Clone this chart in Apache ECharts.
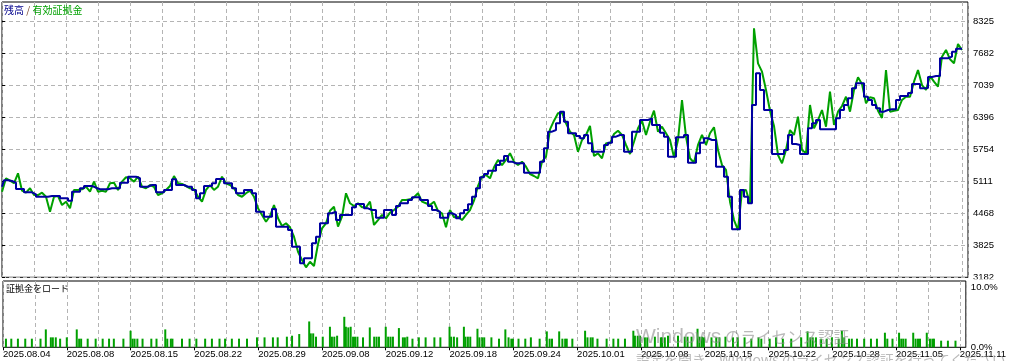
<!DOCTYPE html>
<html><head><meta charset="utf-8">
<script src="https://cdn.jsdelivr.net/npm/echarts@6/dist/echarts.min.js"></script>
<style>html,body{margin:0;padding:0;background:#fff}#c{width:1009px;height:361px}</style>
</head><body><div id="c"></div>
<script>
const dateLabels = ['2025.08.04','2025.08.08','2025.08.15','2025.08.22','2025.08.29','2025.09.08','2025.09.12','2025.09.18','2025.09.24','2025.10.01','2025.10.08','2025.10.15','2025.10.22','2025.10.28','2025.11.05','2025.11.11'];
const yTicks = [3182,3825,4468,5111,5754,6396,7039,7682,8325];
const loadTicks = [0,10];

const balance = [
5002,5131,5117,5083,4956,4956,4890,4890,4850,4801,
4801,4801,4815,4815,4815,4769,4769,4721,4902,4902,
4970,5016,5016,4982,4950,4950,4950,4970,4970,4970,
5083,5083,5203,5203,5171,5002,5002,5036,5036,4890,
4890,4936,4936,5151,5036,5036,5002,5002,4936,4769,
4870,5016,5016,5071,5157,5157,5071,5071,4970,4870,
4870,4936,4936,4870,4500,4500,4400,4400,4554,4199,
4199,4199,4132,3797,3797,3463,3564,3564,3865,3998,
4267,4267,4468,4500,4333,4434,4434,4434,4588,4655,
4655,4568,4534,4534,4379,4379,4534,4534,4434,4615,
4668,4668,4735,4789,4789,4735,4735,4615,4534,4500,
4379,4379,4468,4434,4367,4468,4534,4649,4801,4970,
5191,5257,5324,5324,5438,5525,5619,5505,5472,5472,
5472,5283,5283,5283,5283,5505,5774,6107,6141,6276,
6509,6308,6075,6075,6021,5975,6041,5874,5705,5705,
5705,5840,5886,6007,6041,6041,5705,5705,6107,6107,
6342,6342,6376,6242,6242,6087,6007,5605,5605,5995,
5995,6041,5484,5484,5673,5886,5975,5940,5940,5404,
5404,5203,4801,4146,4146,4936,4801,4668,6644,7280,
6945,6543,6543,5659,5659,5659,5740,6041,5860,5840,
5659,5659,6175,6276,6342,6155,6155,6155,6155,6376,
6543,6644,6778,6979,7080,7080,6810,6744,6644,6577,
6509,6543,6557,6557,6744,6824,6824,6885,7065,7065,
6979,6985,7206,7226,7226,7582,7582,7614,7714,7775,
7775];

const equity = [
4902,5171,5123,5071,5271,4922,4882,4970,4835,4835,
4882,4801,4500,4801,4815,4635,4701,4568,4936,4936,
4950,5002,4902,5103,4902,4922,4902,5071,5083,4936,
5103,5191,5171,5103,5203,5002,4970,5036,5002,4835,
4870,4936,5016,5217,5071,5056,5016,4970,4950,4801,
4701,4936,5036,4936,5002,5203,5071,5036,4970,4835,
4801,4870,4922,4801,4568,4434,4299,4414,4635,4367,
4213,4267,4187,3998,3696,3530,3383,3495,3409,3851,
4166,4267,4520,4600,4199,4400,4870,4669,4615,4669,
4588,4588,4701,4233,4333,4434,4367,4480,4534,4600,
4735,4735,4749,4789,4870,4701,4669,4635,4701,4514,
4468,4187,4534,4387,4400,4333,4434,4534,4721,5016,
5203,5237,5171,5392,5539,5438,5539,5673,5505,5438,
5505,5404,5257,5217,5171,5505,5605,6155,6328,6477,
6489,6276,6107,6041,5705,5940,6041,6222,5619,5673,
5573,5874,5874,6061,6127,6041,5840,5659,5906,6175,
6328,6041,6308,6529,6107,6208,6075,5940,5593,5940,
6744,6007,5573,5484,5840,6041,5840,6075,6196,5740,
5438,5338,4701,4333,4132,4922,4936,4669,8184,7481,
7313,6945,6529,6222,5639,5472,5740,6141,6041,6408,
5740,5673,6644,6175,6342,6543,6208,6911,6242,6509,
6623,6810,6509,6945,7200,7065,6678,6798,6778,6529,
6382,7347,6509,6529,6543,6744,6810,6810,7112,7347,
7045,6945,7226,7112,7011,7614,7748,7562,7481,7869,
7748];

const loadPos = [
0.74,2.08,3.74,5.58,7.24,9.41,10.74,12.0,12.5,13.24,
14.33,16.0,18.5,19.1,19.6,21.24,23.24,25.0,26.6,27.8,
30.2,32.0,32.5,33.0,33.7,35.0,37.2,38.5,40.7,41.2,
42.1,42.5,44.9,46.8,48.5,50.7,52.4,54.3,55.7,57.4,
59.2,61.2,63.7,65.6,67.7,68.9,71.2,72.5,74.3,76.8,
77.2,77.8,78.5,80.2,82.0,82.5,83.1,83.8,85.6,86.0,
86.6,87.2,87.8,88.3,88.9,90.3,92.0,93.1,93.7,94.3,
96.0,96.6,97.2,97.8,99.3,100.3,100.8,101.4,102.7,104.3,
106.0,108.2,109.7,112.0,112.4,113.1,113.9,115.6,116.0,116.6,
117.2,119.0,119.5,120.2,120.7,122.5,124.4,126.0,126.8,127.5,
127.9,129.3,131.0,132.4,134.6,136.4,137.1,137.7,139.5,140.3,
141.0,141.4,142.8,146.0,146.6,147.4,147.9,149.1,151.4,153.1,
154.3,156.0,158.1,158.5,159.2,159.8,161.0,161.6,163.5,165.0,
165.3,166.0,166.8,169.3,171.0,171.7,172.7,174.2,174.7,175.3,
175.8,177.7,178.9,179.7,181.2,183.1,184.3,186.0,187.7,189.5,
190.2,192.3,193.9,195.6,197.7,200.2,201.8,202.5,203.1,203.9,
205.2,206.6,207.9,209.6,210.4,211.0,212.2,212.9,214.2,216.0,
217.7,219.2,221.2,221.8,223.1,224.75,225.3,225.8,226.4,228.3,
228.9,229.5,230.0,231.7,232.5,233.1,233.5,235.3,237.0,238.9];

const loadPct = [
1.3,1.3,1.3,1.3,1.3,1.3,2.7,1.5,1.5,1.5,
1.3,1.5,2.7,1.3,1.3,1.3,1.3,1.3,1.3,1.3,
1.3,2.5,1.3,1.3,1.3,1.3,1.3,1.3,2.7,1.3,
1.3,1.3,1.3,1.3,1.3,1.3,1.3,1.3,1.3,1.3,
1.3,1.3,1.5,1.5,1.5,1.5,1.6,1.75,2.0,3.9,
2.1,2.1,1.6,1.6,3.1,1.6,1.6,1.75,4.6,3.1,
3.0,3.1,1.6,1.6,1.6,1.5,3.0,1.6,1.6,1.6,
3.1,1.6,1.6,1.6,2.9,1.5,1.5,1.6,1.3,1.5,
1.5,1.5,1.5,3.1,1.6,1.6,1.5,3.1,1.6,1.6,
1.6,2.8,1.5,1.5,1.5,1.5,1.3,2.7,1.5,1.3,
1.3,1.3,1.3,1.5,1.3,2.4,1.3,1.3,2.4,1.3,
1.3,1.3,1.3,2.5,1.5,1.5,1.5,1.3,1.3,1.3,
1.3,1.3,2.5,1.75,1.75,1.75,1.5,1.5,1.6,1.5,
1.5,1.5,1.75,1.75,1.6,1.6,1.6,2.8,1.6,1.6,
1.5,1.5,1.5,1.5,1.6,1.5,1.5,1.5,1.3,1.5,
1.3,1.3,1.5,1.3,1.3,1.5,2.4,1.5,1.5,1.5,
1.3,1.3,1.5,1.3,2.5,1.5,1.3,1.3,1.3,1.3,
1.3,1.3,2.2,1.3,1.3,2.2,1.3,1.3,1.3,2.2,
1.3,1.3,1.3,2.2,1.3,1.3,1.3,1.0,1.0,1.0];

const labelPos = dateLabels.map((_, k) => k * 16);
const NUM_FONT = 'Liberation Sans';
const JP_FONT = 'Noto Sans CJK JP';
const gridLine = { show: true, lineStyle: { color: '#b4b4b4', type: [4, 3], width: 1 } };
const hiddenX = (g, pos) => ({
  gridIndex: g, type: 'value', position: pos, min: 0, max: 241.5, interval: 8,
  axisLine: { show: false }, axisTick: { show: false }, axisLabel: { show: false },
  splitLine: gridLine
});
const WM = 'rgba(140,140,140,0.6)';

const chart = echarts.init(document.getElementById('c'), null, { renderer: 'canvas' });
chart.setOption({
  animation: false,
  backgroundColor: '#ffffff',
  textStyle: { fontFamily: NUM_FONT },
  title: [
    {
      text: '{a|残高} {s|/} {b|有効証拠金}', left: 4, top: 5, padding: 0,
      textStyle: {
        fontSize: 10, fontWeight: 'normal', fontFamily: JP_FONT,
        rich: {
          a: { color: '#00008c', fontSize: 10, fontFamily: JP_FONT },
          s: { color: '#7a4a30', fontSize: 10, fontFamily: JP_FONT },
          b: { color: '#00a000', fontSize: 10, fontFamily: JP_FONT }
        }
      }
    },
    {
      text: '証拠金をロード', left: 6, top: 284, padding: 0,
      textStyle: { fontSize: 9, fontWeight: 'normal', color: '#000', fontFamily: JP_FONT }
    }
  ],
  grid: [
    { left: 2, right: 41, top: 2, height: 275.3, show: true, borderColor: '#000', borderWidth: 1, backgroundColor: '#fff' },
    { left: 2, right: 41, top: 281, height: 66.3, show: true, borderColor: '#000', borderWidth: 1, backgroundColor: '#fff' }
  ],
  xAxis: [
    hiddenX(0, 'bottom'),
    hiddenX(1, 'top'),
    {
      gridIndex: 1, type: 'value', position: 'bottom', min: 0, max: 241.5,
      axisLine: { show: false },
      axisTick: { show: true, customValues: labelPos, length: 3, lineStyle: { color: '#000' } },
      axisLabel: {
        customValues: labelPos, align: 'left', margin: 2, fontSize: 9.5, color: '#000', fontFamily: NUM_FONT,
        formatter: v => dateLabels[Math.round(v / 16)] || ''
      },
      splitLine: { show: false }
    }
  ],
  yAxis: [
    {
      gridIndex: 0, type: 'value', position: 'right', min: 3182, max: 8712.7,
      axisLine: { show: false },
      axisTick: { show: true, customValues: yTicks, length: 3, lineStyle: { color: '#000' } },
      axisLabel: {
        customValues: yTicks, margin: 5, fontSize: 9.5, color: '#000', fontFamily: NUM_FONT,
        padding: [2, 0, 0, 0],
        formatter: v => String(Math.round(v))
      },
      splitLine: gridLine
    },
    {
      gridIndex: 1, type: 'value', position: 'right', min: 0, max: 10,
      axisLine: { show: false }, axisTick: { show: false },
      axisLabel: {
        customValues: loadTicks, margin: 5, color: '#000',
        formatter: v => (v >= 10 ? '{t|' : '{m|') + v.toFixed(1) + '%}',
        rich: {
          t: { padding: [12, 0, 0, 0], fontSize: 9.5, color: '#000', fontFamily: NUM_FONT },
          m: { fontSize: 9.5, color: '#000', fontFamily: NUM_FONT }
        }
      },
      splitLine: { show: false }
    }
  ],
  series: [
    {
      name: '有効証拠金', type: 'line', xAxisIndex: 0, yAxisIndex: 0,
      data: equity.map((v, i) => [i, v]), symbol: 'none',
      lineStyle: { color: '#00a000', width: 2 }, z: 2
    },
    {
      name: '残高', type: 'line', step: 'middle', xAxisIndex: 0, yAxisIndex: 0,
      data: balance.map((v, i) => [i, v]), symbol: 'none',
      lineStyle: { color: '#0000a0', width: 2 }, z: 3
    },
    {
      name: '証拠金をロード', type: 'bar', xAxisIndex: 1, yAxisIndex: 1,
      data: loadPos.map((p, k) => [p, loadPct[k]]), barWidth: 2,
      itemStyle: { color: '#00a000' }
    }
  ],
  graphic: [
    { type: 'rect', left: 969, top: 279.2, shape: { width: 40, height: 3 }, style: { fill: '#fff' }, z: 100 },
    { type: 'text', left: 636, top: 327, z: 100, silent: true,
      style: { text: 'Windows', fontSize: 21, fontFamily: NUM_FONT, fill: WM } },
    { type: 'text', left: 725, top: 329, z: 100, silent: true,
      style: { text: 'のライセンス認証', fontSize: 15.5, fontFamily: JP_FONT, fill: WM } },
    { type: 'text', left: 636, top: 353, z: 100, silent: true,
      style: { text: '設定を開き、Windows のライセンス認証を行ってください。', fontSize: 14, fontFamily: JP_FONT, fill: WM } }
  ]
});
</script>
</body></html>
